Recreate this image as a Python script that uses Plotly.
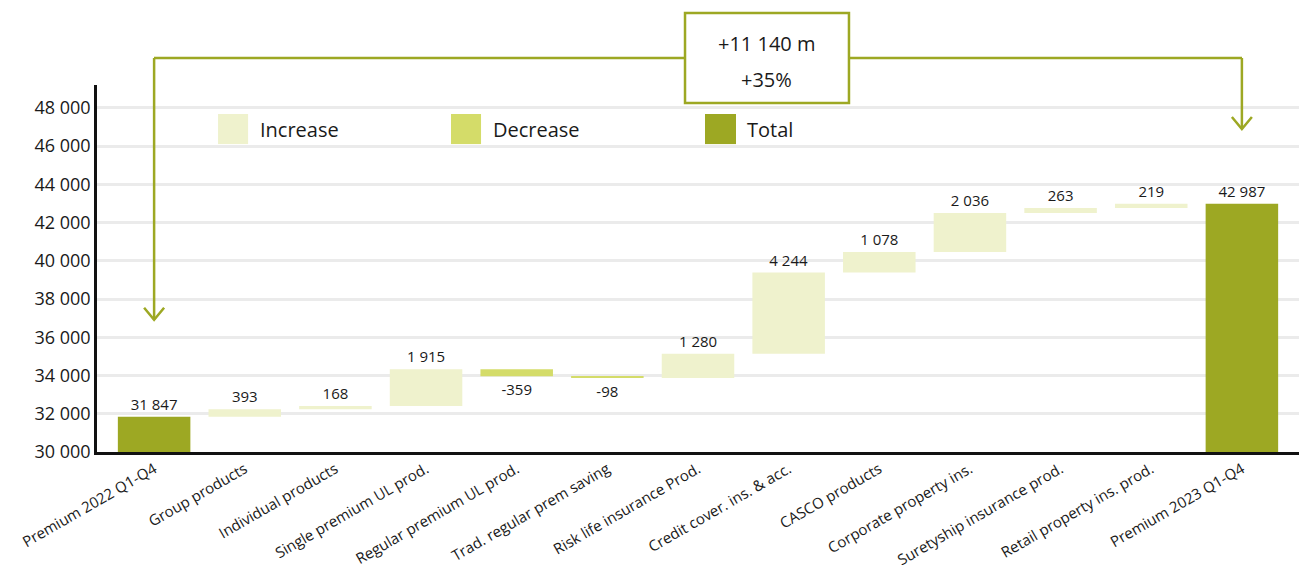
import plotly.graph_objects as go

# Premium bridge 2022 -> 2023 (m)
categories = [
    "Premium 2022 Q1-Q4", "Group products", "Individual products",
    "Single premium UL prod.", "Regular premium UL prod.",
    "Trad. regular prem saving", "Risk life insurance Prod.",
    "Credit cover. ins. & acc.", "CASCO products", "Corporate property ins.",
    "Suretyship insurance prod.", "Retail property ins. prod.",
    "Premium 2023 Q1-Q4",
]
values = [31847, 393, 168, 1915, -359, -98, 1280, 4244, 1078, 2036, 263, 219, 42987]
measures = ["absolute"] + ["relative"] * 11 + ["absolute"]
y_ticks = [30000, 32000, 34000, 36000, 38000, 40000, 42000, 44000, 46000, 48000]
change_text = ["+11 140 m", "+35%"]
legend_items = ["Increase", "Decrease", "Total"]

C_INC = "#eff2cd"
C_DEC = "#d4dc69"
C_TOT = "#9da823"
FONT = "Open Sans"


def fmt(v):
    return f"{v:,}".replace(",", " ")


fig = go.Figure(go.Waterfall(
    x=categories,
    y=values,
    measure=measures,
    text=[fmt(v) for v in values],
    textposition="outside",
    textfont=dict(size=15, color="#1a1a1a", family=FONT),
    increasing=dict(marker=dict(color=C_INC)),
    decreasing=dict(marker=dict(color=C_DEC)),
    totals=dict(marker=dict(color=C_TOT)),
    connector=dict(visible=False),
    width=0.8,
    cliponaxis=False,
    showlegend=False,
    hoverinfo="x+y",
))

fig.update_layout(
    width=1299, height=571,
    margin=dict(l=97, r=0, t=85, b=119),
    plot_bgcolor="white", paper_bgcolor="white",
    separators=". ",
    font=dict(family=FONT, color="#1a1a1a"),
    xaxis=dict(
        range=[-0.63, 12.63],
        tickangle=-30,
        tickfont=dict(size=15),
        showline=True, linecolor="#111", linewidth=2.5,
        showgrid=False, ticks="", automargin=False,
    ),
    yaxis=dict(
        range=[30000, 49200],
        tickvals=y_ticks,
        ticktext=[fmt(v) for v in y_ticks],
        tickfont=dict(size=18),
        showline=True, linecolor="#111", linewidth=2.5,
        showgrid=True, gridcolor="#ebebeb", gridwidth=2.5,
        zeroline=False, ticks="", automargin=False,
    ),
)

# Legend swatches and labels
sw = [(0.1007, 0.1257, 0.134), (0.2945, 0.3195, 0.328), (0.5058, 0.5316, 0.539)]
for (x0, x1, xt), label, col in zip(sw, legend_items, [C_INC, C_DEC, C_TOT]):
    fig.add_shape(type="rect", xref="paper", yref="paper",
                  x0=x0, x1=x1, y0=0.839, y1=0.921,
                  fillcolor=col, line=dict(width=0))
    fig.add_annotation(xref="paper", yref="paper", x=xt, y=0.880,
                       text=label, showarrow=False, xanchor="left",
                       yanchor="middle", font=dict(size=20, color="#1a1a1a"))

# Bracket connecting the two totals
LINE = dict(color=C_TOT, width=2.5)
y_top = 1.0736
y_left_end = 0.360
y_right_end = 0.880
box_l, box_r = 0.4892, 0.6256
first, last = categories[0], categories[-1]

fig.add_shape(type="line", xref="x", yref="paper", x0=first, x1=first,
              y0=y_top, y1=y_left_end, line=LINE)
fig.add_shape(type="line", xref="x", yref="paper", x0=last, x1=last,
              y0=y_top, y1=y_right_end, line=LINE)
fig.add_shape(type="line", xref="paper", yref="paper", x0=(154 - 97) / 1202, x1=box_l,
              y0=y_top, y1=y_top, line=LINE)
fig.add_shape(type="line", xref="paper", yref="paper", x0=box_r, x1=(1242 - 97) / 1202,
              y0=y_top, y1=y_top, line=LINE)

# Arrow heads (open chevrons)
for cat, yend in [(first, y_left_end), (last, y_right_end)]:
    fig.add_shape(type="path", xref="x", yref="paper", xsizemode="pixel",
                  xanchor=categories.index(cat), ysizemode="scaled",
                  path=f"M -10,{yend + 0.033} L 0,{yend} L 10,{yend + 0.033}",
                  line=LINE)

# Change box
fig.add_shape(type="rect", xref="paper", yref="paper",
              x0=box_l, x1=box_r, y0=(452 - 103) / 367, y1=(452 - 13) / 367,
              fillcolor="white", line=dict(color=C_TOT, width=2.5))
fig.add_annotation(xref="paper", yref="paper", x=(box_l + box_r) / 2,
                   y=(452 - 43) / 367, text=change_text[0], showarrow=False,
                   yanchor="middle", font=dict(size=20, color="#1a1a1a"))
fig.add_annotation(xref="paper", yref="paper", x=(box_l + box_r) / 2,
                   y=(452 - 80) / 367, text=change_text[1], showarrow=False,
                   yanchor="middle", font=dict(size=20, color="#1a1a1a"))

fig.write_html("out.html")
